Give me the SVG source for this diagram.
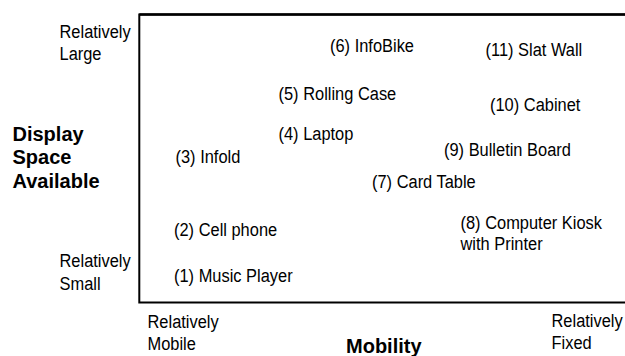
<svg xmlns="http://www.w3.org/2000/svg" width="625" height="356" viewBox="0 0 625 356">
<style>
.t{font-family:"Liberation Sans",Arial,sans-serif;font-size:19px;fill:#000}
.b{font-family:"Liberation Sans",Arial,sans-serif;font-size:20px;font-weight:bold;fill:#000}
.ax{fill:none;stroke:#000;stroke-width:2}
</style>
<rect width="625" height="356" fill="#fff"/>
<g id="frame">
<path class="ax" d="M626 14.5 H139.3 V302.5 H626"/>
<line x1="139.3" y1="14.5" x2="626" y2="14.5" stroke="#000" stroke-width="2.6"/>
</g>
<g id="y-axis-labels">
<text class="t" transform="translate(59.5 37.5) scale(0.865 1)"><tspan x="0" y="0">Relatively</tspan><tspan x="0" y="23">Large</tspan></text>
<text class="b" transform="translate(12.5 140.5)"><tspan x="0" y="0">Display</tspan><tspan x="0" y="23.5">Space</tspan><tspan x="0" y="47">Available</tspan></text>
<text class="t" transform="translate(59.5 266.5) scale(0.865 1)"><tspan x="0" y="0">Relatively</tspan><tspan x="0" y="23.5">Small</tspan></text>
</g>
<g id="x-axis-labels">
<text class="t" transform="translate(147.5 327.5) scale(0.865 1)"><tspan x="0" y="0">Relatively</tspan><tspan x="0" y="22.5">Mobile</tspan></text>
<text class="b" transform="translate(346 353)">Mobility</text>
<text class="t" transform="translate(551.5 327) scale(0.865 1)"><tspan x="0" y="0">Relatively</tspan><tspan x="0" y="22.5">Fixed</tspan></text>
</g>
<g id="n6"><text class="t" transform="translate(330 51.5) scale(0.865 1)">(6) InfoBike</text></g>
<g id="n11"><text class="t" transform="translate(485.5 56) scale(0.865 1)">(11) Slat Wall</text></g>
<g id="n5"><text class="t" transform="translate(278.5 100) scale(0.865 1)">(5) Rolling Case</text></g>
<g id="n10"><text class="t" transform="translate(490 110.5) scale(0.865 1)">(10) Cabinet</text></g>
<g id="n4"><text class="t" transform="translate(278.5 139.5) scale(0.865 1)">(4) Laptop</text></g>
<g id="n9"><text class="t" transform="translate(444 155.5) scale(0.865 1)">(9) Bulletin Board</text></g>
<g id="n3"><text class="t" transform="translate(175.5 163) scale(0.865 1)">(3) Infold</text></g>
<g id="n7"><text class="t" transform="translate(372 187.5) scale(0.865 1)">(7) Card Table</text></g>
<g id="n8"><text class="t" transform="translate(460.5 228.5) scale(0.865 1)"><tspan x="0" y="0">(8) Computer Kiosk</tspan><tspan x="0" y="21.5">with Printer</tspan></text></g>
<g id="n2"><text class="t" transform="translate(174 236) scale(0.865 1)">(2) Cell phone</text></g>
<g id="n1"><text class="t" transform="translate(174 281.5) scale(0.865 1)">(1) Music Player</text></g>
<g id="connectors"></g>
</svg>
